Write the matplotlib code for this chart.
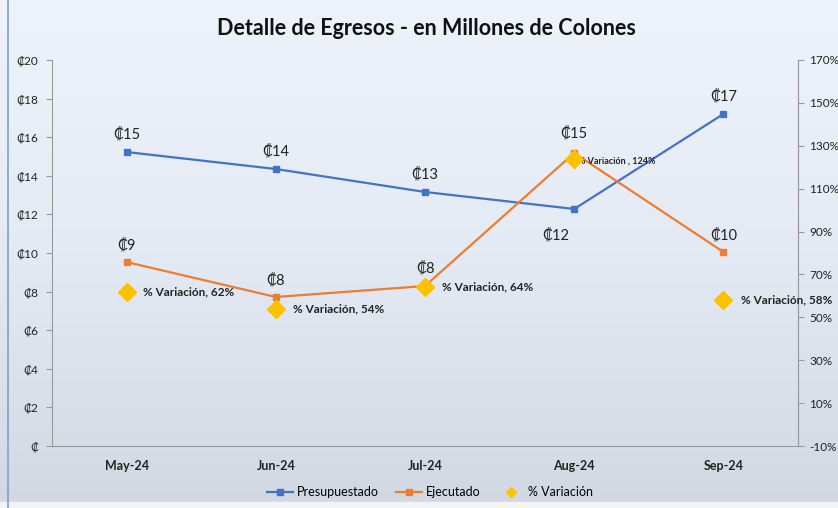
import matplotlib.pyplot as plt
import numpy as np
from matplotlib.colors import LinearSegmentedColormap
from matplotlib.lines import Line2D

months = ['May-24', 'Jun-24', 'Jul-24', 'Aug-24', 'Sep-24']
presupuestado = [15.23, 14.35, 13.16, 12.28, 17.2]
ejecutado = [9.53, 7.72, 8.29, 15.18, 10.05]
variacion = [62, 54, 64, 124, 58]
pres_labels = ['₡15', '₡14', '₡13', '₡12', '₡17']
ejec_labels = ['₡9', '₡8', '₡8', '₡15', '₡10']
var_labels = ['% Variación, 62%', '% Variación, 54%', '% Variación, 64%',
              '% Variación , 124%', '% Variación, 58%']
left_ticks = [0, 2, 4, 6, 8, 10, 12, 14, 16, 18, 20]
right_ticks = [-10, 10, 30, 50, 70, 90, 110, 130, 150, 170]

plt.rcParams['font.family'] = ['Lato', 'DejaVu Sans']

BLUE = '#4472C4'
ORANGE = '#ED7D31'
GOLD = '#FFC000'

fig = plt.figure(figsize=(8.38, 5.08), dpi=100)

# background gradient
bg = fig.add_axes([0, 0, 1, 1], zorder=-10)
grad = np.linspace(0, 1, 256).reshape(-1, 1)
cmap = LinearSegmentedColormap.from_list('bg', ['#eef3fb', '#e4eaf3', '#d2d8e1'])
bg.imshow(grad, aspect='auto', cmap=cmap, extent=[0, 1, 0, 1], origin='upper')
bg.axvline(0.0095, color='#7f9fd4', lw=1.2)
bg.axhspan(0, 0.012, color='#f2f3f5')
bg.set_xlim(0, 1)
bg.set_ylim(0, 1)
bg.axis('off')

ax = fig.add_axes([0.0621, 0.122, 0.8902, 0.760])
ax.patch.set_alpha(0)
x = np.arange(len(months))

ax.plot(x, presupuestado, color=BLUE, lw=1.6, marker='s', ms=5, label='Presupuestado', zorder=3)
ax.plot(x, ejecutado, color=ORANGE, lw=1.6, marker='s', ms=5, label='Ejecutado', zorder=3)

ax.set_xlim(-0.5, len(months) - 0.5)
ax.set_ylim(0, 20)
ax.set_yticks(left_ticks)
ax.set_yticklabels(['₡' if v == 0 else f'₡{v}' for v in left_ticks], fontsize=8.5, color='#222222')
ax.set_xticks(x)
ax.set_xticklabels(months, fontsize=9, fontweight='bold', color='#222222')
ax.tick_params(axis='x', length=0, pad=10)
ax.tick_params(axis='y', length=4, color='#9a9a9a', pad=6)
ax.spines['top'].set_visible(False)
for s in ['left', 'bottom', 'right']:
    ax.spines[s].set_color('#9a9a9a')

# data labels
pres_off = [(0, 13), (0, 13), (0, 13), (-13, -19), (0, 13)]
ejec_off = [(0, 12), (0, 12), (0, 13), (0, 14), (0, 12)]
for i in range(len(months)):
    ax.annotate(pres_labels[i], (x[i], presupuestado[i]), xytext=pres_off[i],
                textcoords='offset points', ha='center', va='center', fontsize=10.5, color='#222222')
    ax.annotate(ejec_labels[i], (x[i], ejecutado[i]), xytext=ejec_off[i],
                textcoords='offset points', ha='center', va='center', fontsize=10.5, color='#222222')

ax2 = ax.twinx()
ax2.set_ylim(-10, 170)
ax2.set_yticks(right_ticks)
ax2.set_yticklabels([f'{v}%' for v in right_ticks], fontsize=8.5, color='#222222')
ax2.tick_params(axis='y', length=4, color='#9a9a9a', pad=4)
for s in ['top', 'left', 'bottom']:
    ax2.spines[s].set_visible(False)
ax2.spines['right'].set_color('#9a9a9a')
ax2.plot(x, variacion, linestyle='none', marker='D', ms=9, color=GOLD, label='% Variación', zorder=4)

var_off = [(12, 0), (12, 0), (12, 0), (3, -2), (13, 0)]
var_fs = [8.5, 8.5, 8.5, 6.5, 8.5]
for i in range(len(months)):
    ax2.annotate(var_labels[i], (x[i], variacion[i]), xytext=var_off[i],
                 textcoords='offset points', ha='left', va='center',
                 fontsize=var_fs[i], fontweight='bold', color='#222222',
                 annotation_clip=False)

fig.suptitle('Detalle de Egresos - en Millones de Colones', x=0.509, y=0.965,
             fontsize=15.5, fontweight='bold', color='#111111')

h1, l1 = ax.get_legend_handles_labels()
h2 = [Line2D([], [], linestyle='none', marker='D', ms=5, color=GOLD)]
l2 = ['% Variación']
fig.legend(h1 + h2, l1 + l2, loc='center', bbox_to_anchor=(0.513, 0.031), ncol=3,
           frameon=False, fontsize=9, handlelength=2.1, columnspacing=1.4, handletextpad=0.3)

fig.savefig('out.png', dpi=100)
